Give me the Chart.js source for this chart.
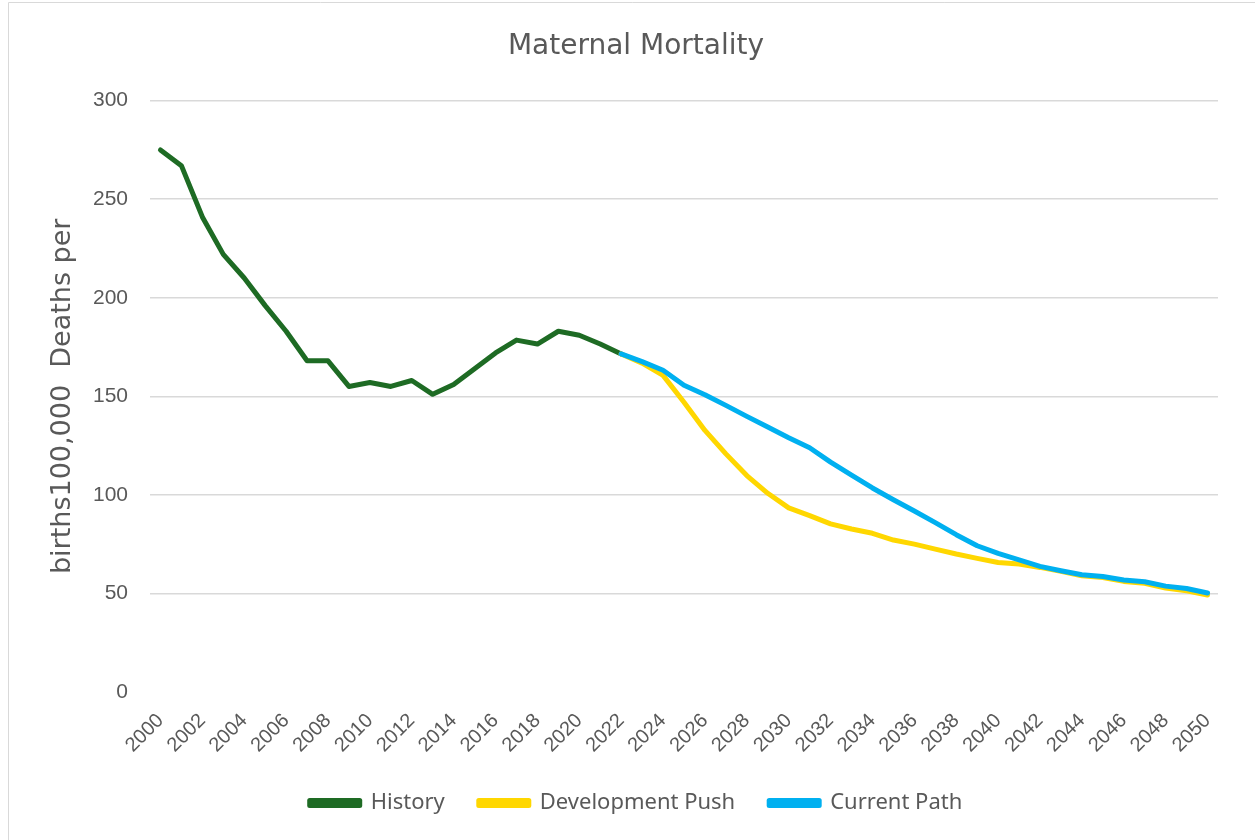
<!DOCTYPE html>
<html>
<head>
<meta charset="utf-8">
<script src="https://cdn.jsdelivr.net/npm/chart.js@4.4.1/dist/chart.umd.min.js"></script>
<style>
  html, body { margin: 0; padding: 0; background: #fff; }
  #wrap { width: 1255px; height: 840px; position: relative; }
</style>
</head>
<body>
<div id="wrap"><canvas id="chart" width="1255" height="840"></canvas></div>
<script>
const years = [];
for (let y = 2000; y <= 2050; y++) years.push(String(y));

const yTicks = [0, 50, 100, 150, 200, 250, 300];

// 2000 - 2022
const history = [275, 267, 241, 222, 210, 196, 183, 168, 168, 155, 157, 155, 158, 151, 156, 164, 172, 178.5, 176.5, 183, 181, 176.5, 171.5];

// 2022 - 2050
const developmentPush = [171.5, 166.8, 160.6, 147, 132.7, 120.8, 109.8, 100.8, 93.4, 89.5, 85.3, 82.7, 80.5, 77.1, 75, 72.5, 70, 67.8, 65.7, 64.9, 63.2, 61.2, 59, 58.1, 56.1, 55.1, 52.7, 51.3, 49.2];
const currentPath = [171.5, 167.6, 163.2, 155.6, 150.8, 145.4, 139.8, 134.4, 129, 123.9, 116.6, 110, 103.5, 97.5, 91.8, 85.9, 79.8, 74.2, 70.3, 67, 63.7, 61.5, 59.5, 58.6, 56.8, 55.9, 53.7, 52.5, 50.2];

const pad = (arr, before) => Array(before).fill(null).concat(arr);

const frame = {
  id: 'frame',
  afterDraw(chart) {
    const c = chart.ctx;
    c.save();
    c.strokeStyle = '#d9d9d9';
    c.lineWidth = 1;
    c.beginPath();
    c.moveTo(8.5, 845);
    c.lineTo(8.5, 2.5);
    c.lineTo(1260, 2.5);
    c.stroke();
    c.restore();
  }
};

new Chart(document.getElementById('chart'), {
  type: 'line',
  data: {
    labels: years,
    datasets: [
      {
        label: 'Current Path',
        data: pad(currentPath, 22),
        borderColor: '#00b0f0',
        backgroundColor: '#00b0f0',
        order: 1
      },
      {
        label: 'History',
        data: history,
        borderColor: '#1e6b24',
        backgroundColor: '#1e6b24',
        order: 3
      },
      {
        label: 'Development Push',
        data: pad(developmentPush, 22),
        borderColor: '#ffd700',
        backgroundColor: '#ffd700',
        order: 2
      }
    ]
  },
  options: {
    responsive: false,
    animation: false,
    layout: { padding: { left: 27, right: 10, top: 0, bottom: 16 } },
    elements: {
      point: { radius: 0, hoverRadius: 0 },
      line: { borderWidth: 5, tension: 0, borderCapStyle: 'round', borderJoinStyle: 'round' }
    },
    plugins: {
      title: {
        display: true,
        text: 'Maternal Mortality',
        color: '#595959',
        font: { family: 'DejaVu Sans', size: 28, weight: 'normal' },
        padding: { top: 30, bottom: 37 }
      },
      legend: {
        position: 'bottom',
        labels: {
          color: '#595959',
          font: { family: 'Noto Sans', size: 22 },
          boxWidth: 50,
          boxHeight: 5,
          padding: 34,
          sort: (a, b) => {
            const ord = ['History', 'Development Push', 'Current Path'];
            return ord.indexOf(a.text) - ord.indexOf(b.text);
          }
        }
      },
      tooltip: { enabled: false }
    },
    scales: {
      x: {
        offset: true,
        grid: { display: false },
        border: { display: false },
        afterFit: (s) => { s.height = 66; },
        ticks: {
          autoSkip: false,
          maxRotation: 45,
          minRotation: 45,
          color: '#595959',
          font: { family: 'Liberation Sans', size: 20 },
          padding: 9,
          callback: function (v, i) { return i % 2 === 0 ? this.getLabelForValue(v) : ''; }
        }
      },
      y: {
        min: 0,
        max: 300,
        afterBuildTicks: (s) => { s.ticks = yTicks.map(v => ({ value: v })); },
        afterFit: (s) => { s.width = 123; },
        grid: {
          color: (ctx) => ctx.tick && ctx.tick.value === 0 ? 'rgba(0,0,0,0)' : '#d9d9d9',
          lineWidth: 1.5,
          drawTicks: false
        },
        border: { display: false },
        ticks: {
          color: '#595959',
          font: { family: 'Liberation Sans', size: 21 },
          padding: 22
        },
        title: {
          display: true,
          text: 'births100,000  Deaths per',
          color: '#595959',
          font: { family: 'DejaVu Sans', size: 27 },
          padding: { top: 20, bottom: 0 }
        }
      },
      yRight: {
        position: 'right',
        display: true,
        grid: { display: false },
        border: { display: false },
        ticks: { display: false },
        afterFit: (s) => { s.width = 27; }
      }
    }
  },
  plugins: [frame]
});
</script>
</body>
</html>
